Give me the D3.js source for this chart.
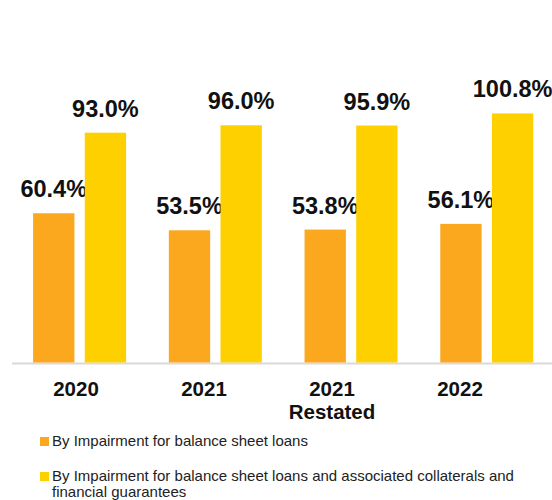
<!DOCTYPE html>
<html>
<head>
<meta charset="utf-8">
<script src="https://cdn.jsdelivr.net/npm/d3@7"></script>
<style>
  html, body { margin: 0; padding: 0; background: #fff; }
  svg { display: block; font-family: "Liberation Sans", Arial, sans-serif; }
</style>
</head>
<body>
<svg id="chart" width="552" height="500"></svg>
<script>
// Coverage ratios by year
const categories = ["2020", "2021", "2021\nRestated", "2022"];
const seriesNames = [
  "By Impairment for balance sheet loans",
  "By Impairment for balance sheet loans and associated collaterals and financial guarantees"
];
const impairmentOnly = [60.4, 53.5, 53.8, 56.1];
const withCollaterals = [93.0, 96.0, 95.9, 100.8];
const seriesColors = ["#FBA81F", "#FFD000"];

const svg = d3.select("#chart");
const baseY = 362.5;

const x = d3.scaleBand().domain(categories).range([11.6, 554.5]).paddingInner(0).paddingOuter(0);
const xInner = d3.scaleBand().domain([0, 1]).range([21.5, 114.5]).paddingInner(0.2);
const y = d3.scaleLinear().domain([0, 120]).range([baseY, baseY - 120 * 2.471]);
// category labels sit on their own evenly spaced scale
const xLabel = d3.scaleBand().domain(categories).range([12, 524]);

const series = [impairmentOnly, withCollaterals];

// axis line
svg.append("line")
  .attr("x1", 12).attr("x2", 552)
  .attr("y1", baseY + 1).attr("y2", baseY + 1)
  .attr("stroke", "#D9D9D9").attr("stroke-width", 2);

series.forEach((vals, si) => {
  const g = svg.append("g");
  g.selectAll("rect").data(vals).join("rect")
    .attr("x", (d, i) => x(categories[i]) + xInner(si))
    .attr("width", xInner.bandwidth())
    .attr("y", d => y(d))
    .attr("height", d => baseY - y(d))
    .attr("fill", seriesColors[si]);
  g.selectAll("text").data(vals).join("text")
    .attr("x", (d, i) => x(categories[i]) + xInner(si) + xInner.bandwidth() / 2)
    .attr("y", d => y(d) - 16)
    .attr("text-anchor", "middle")
    .attr("font-size", "23.5px")
    .attr("font-weight", "bold")
    .attr("fill", "#111")
    .text(d => d.toFixed(1) + "%");
});

// category labels
const lab = svg.append("g");
categories.forEach(c => {
  const t = lab.append("text")
    .attr("x", xLabel(c) + xLabel.bandwidth() / 2)
    .attr("y", 396)
    .attr("text-anchor", "middle")
    .attr("font-size", "20.5px")
    .attr("font-weight", "bold")
    .attr("fill", "#111");
  c.split("\n").forEach((line, li) => {
    t.append("tspan")
      .attr("x", xLabel(c) + xLabel.bandwidth() / 2)
      .attr("dy", li === 0 ? 0 : 23.3)
      .text(line);
  });
});

// legend
const legendRows = [
  { y: 446, lines: [seriesNames[0]] },
  { y: 481, lines: ["By Impairment for balance sheet loans and associated collaterals and", "financial guarantees"] }
];
legendRows.forEach((row, i) => {
  svg.append("rect")
    .attr("x", 40).attr("y", row.y - 9)
    .attr("width", 9).attr("height", 9)
    .attr("fill", seriesColors[i]);
  const t = svg.append("text")
    .attr("x", 52).attr("y", row.y)
    .attr("font-size", "15px")
    .attr("fill", "#222");
  row.lines.forEach((line, li) => {
    t.append("tspan").attr("x", 52).attr("dy", li === 0 ? 0 : 15.7).text(line);
  });
});
</script>
</body>
</html>
